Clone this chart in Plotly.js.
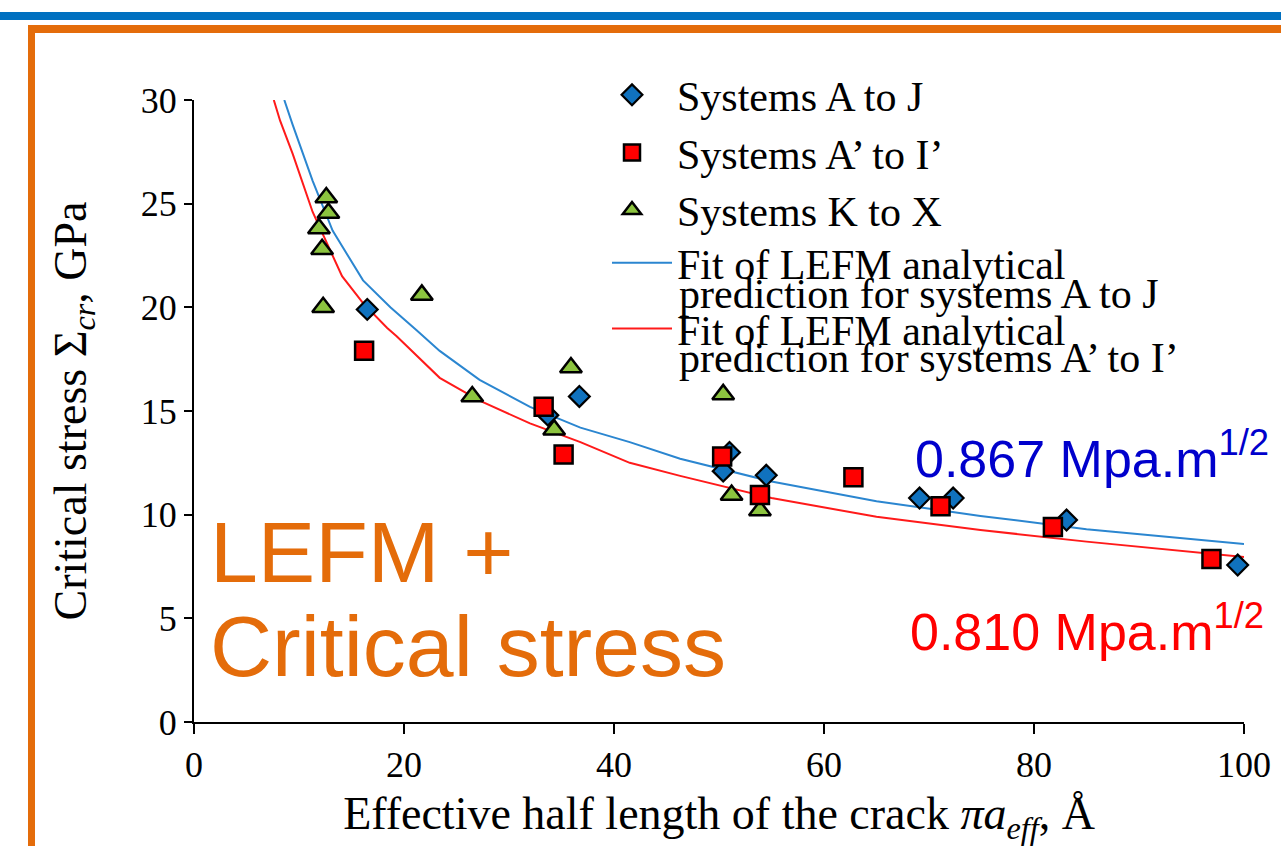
<!DOCTYPE html>
<html>
<head>
<meta charset="utf-8">
<script src="https://cdn.plot.ly/plotly-3.0.1.min.js"></script>
<style>html,body{margin:0;padding:0;background:#fff;}#chart{width:1281px;height:846px;}</style>
</head>
<body>
<div id="chart"></div>
<script>
// Systems A to J (diamonds)
const sysAJ_x = [16.5, 33.7, 36.7, 51.0, 50.4, 54.5, 69.1, 72.3, 83.1, 99.4];
const sysAJ_y = [19.9, 14.8, 15.7, 13.0, 12.1, 11.9, 10.8, 10.8, 9.74, 7.57];
// Systems A' to I' (squares)
const sysAI_x = [16.2, 33.3, 35.2, 50.3, 53.9, 62.8, 71.1, 81.8, 96.9];
const sysAI_y = [17.9, 15.2, 12.9, 12.8, 10.95, 11.8, 10.4, 9.4, 7.86];
// Systems K to X (triangles)
const sysKX_x = [12.6, 12.8, 11.9, 12.2, 12.3, 21.7, 26.5, 35.9, 34.3, 50.4, 51.2, 53.9];
const sysKX_y = [25.3, 24.55, 23.8, 22.8, 20.0, 20.6, 15.7, 17.1, 14.1, 15.8, 10.95, 10.2];
// Fit curve for A to J
const fitAJ_x = [8.6, 9.4, 11.3, 13.2, 16.1, 18.7, 21.2, 23.4, 27.2, 32, 36.8, 41.5, 46.3, 55, 65, 74.9, 85, 100];
const fitAJ_y = [30.0, 28.8, 26.1, 23.7, 21.3, 20.0, 18.9, 17.9, 16.5, 15.2, 14.2, 13.5, 12.7, 11.6, 10.65, 9.94, 9.3, 8.59];
// Fit curve for A' to I'
const fitAI_x = [7.6, 8.2, 9.4, 11.3, 14.1, 16.1, 18.4, 19.3, 23.4, 27.2, 32, 36.8, 41.5, 46.3, 55, 65, 74.9, 85, 100];
const fitAI_y = [30.0, 29.0, 27.4, 24.6, 21.5, 20.2, 19.0, 18.6, 16.6, 15.5, 14.4, 13.5, 12.5, 11.87, 10.8, 9.9, 9.26, 8.7, 7.96];

const markerNames = ["Systems A to J", "Systems A\u2019 to I\u2019", "Systems K to X"];
const fitNamesLine1 = ["Fit of LEFM analytical", "Fit of LEFM analytical"];
const fitNamesLine2 = ["prediction for systems A to J", "prediction for systems A\u2019 to I\u2019"];

const serif = "Liberation Serif, Times New Roman, serif";
const sans = "Liberation Sans, Arial, sans-serif";

const traces = [
  {x: fitAJ_x, y: fitAJ_y, mode: 'lines', name: fitNamesLine1[0], legend: 'legend2', legendgroup: 'fit1', legendrank: 1,
   line: {color: '#2B86D0', width: 2}},
  {x: fitAI_x, y: fitAI_y, mode: 'lines', name: fitNamesLine1[1], legend: 'legend2', legendgroup: 'fit2', legendrank: 2,
   line: {color: '#FF1A1A', width: 2}},
  {x: sysKX_x, y: sysKX_y, mode: 'markers', name: markerNames[2], legendrank: 3, cliponaxis: false,
   marker: {symbol: 'triangle-up', size: 19, color: '#8CC43F', line: {color: '#000', width: 2.5}}},
  {x: sysAJ_x, y: sysAJ_y, mode: 'markers', name: markerNames[0], legendrank: 1, cliponaxis: false,
   marker: {symbol: 'diamond', size: 16, color: '#1072BE', line: {color: '#000', width: 2.2}}},
  {x: sysAI_x, y: sysAI_y, mode: 'markers', name: markerNames[1], legendrank: 2, cliponaxis: false,
   marker: {symbol: 'square', size: 18, color: '#FF0000', line: {color: '#000', width: 2.5}}}
];

function px2x(p){ return (p - 194) / 1050; }
function py2y(p){ return (722 - p) / 622; }

const legendFont = {family: serif, size: 42, color: '#000'};

const layout = {
  width: 1281, height: 846,
  margin: {l: 194, r: 37, t: 100, b: 124},
  paper_bgcolor: '#fff', plot_bgcolor: '#fff',
  showlegend: true,
  legend: {x: px2x(587), y: py2y(61), xanchor: 'left', yanchor: 'top', bgcolor: 'rgba(0,0,0,0)',
    font: legendFont, tracegroupgap: 0, traceorder: 'normal', itemwidth: 80},
  legend2: {x: px2x(607), y: py2y(229), xanchor: 'left', yanchor: 'top', bgcolor: 'rgba(0,0,0,0)',
    font: legendFont, tracegroupgap: 8, traceorder: 'grouped', itemwidth: 60},
  xaxis: {range: [0, 100], tickvals: [0, 20, 40, 60, 80, 100], showgrid: false, zeroline: false,
    showline: true, linecolor: '#000', linewidth: 2, ticks: 'outside', ticklen: 10, tickwidth: 2, tickcolor: '#000',
    tickfont: {family: serif, size: 36, color: '#000'},
    title: {text: 'Effective half length of the crack <i>πa<sub>eff</sub></i>, Å', font: {family: serif, size: 46, color: '#000'}, standoff: 22}},
  yaxis: {range: [0, 30], tickvals: [0, 5, 10, 15, 20, 25, 30], showgrid: false, zeroline: false,
    showline: true, linecolor: '#000', linewidth: 2, ticks: 'outside', ticklen: 8, tickwidth: 2, tickcolor: '#000',
    tickfont: {family: serif, size: 36, color: '#000'},
    title: {text: 'Critical stress Σ<sub><i>cr</i></sub>, GPa', font: {family: serif, size: 46, color: '#000'}, standoff: 40}},
  shapes: [
    {type: 'rect', xref: 'paper', yref: 'paper', x0: px2x(-5), x1: px2x(1290), y0: py2y(20), y1: py2y(12), fillcolor: '#0070C0', line: {width: 0}, layer: 'above'},
    {type: 'rect', xref: 'paper', yref: 'paper', x0: px2x(28), x1: px2x(1290), y0: py2y(33), y1: py2y(25), fillcolor: '#E46C0A', line: {width: 0}, layer: 'above'},
    {type: 'rect', xref: 'paper', yref: 'paper', x0: px2x(28), x1: px2x(35), y0: py2y(850), y1: py2y(25), fillcolor: '#E46C0A', line: {width: 0}, layer: 'above'}
  ],
  annotations: [
    {xref: 'paper', yref: 'paper', x: px2x(677), y: py2y(294), xanchor: 'left', yanchor: 'middle', showarrow: false,
     text: fitNamesLine2[0], font: legendFont},
    {xref: 'paper', yref: 'paper', x: px2x(677), y: py2y(358), xanchor: 'left', yanchor: 'middle', showarrow: false,
     text: fitNamesLine2[1], font: legendFont},
    {xref: 'paper', yref: 'paper', x: px2x(913), y: py2y(455), xanchor: 'left', yanchor: 'middle', showarrow: false,
     text: '0.867 Mpa.m<sup>1/2</sup>', font: {family: sans, size: 52, color: '#0000CC'}},
    {xref: 'paper', yref: 'paper', x: px2x(908), y: py2y(628), xanchor: 'left', yanchor: 'middle', showarrow: false,
     text: '0.810 Mpa.m<sup>1/2</sup>', font: {family: sans, size: 52, color: '#FF0000'}},
    {xref: 'paper', yref: 'paper', x: px2x(208), y: py2y(552), xanchor: 'left', yanchor: 'middle', showarrow: false,
     text: 'LEFM +', font: {family: sans, size: 86, color: '#E46C0A'}},
    {xref: 'paper', yref: 'paper', x: px2x(208), y: py2y(646), xanchor: 'left', yanchor: 'middle', showarrow: false,
     text: 'Critical stress', font: {family: sans, size: 86, color: '#E46C0A'}}
  ]
};

Plotly.newPlot('chart', traces, layout, {staticPlot: true, displayModeBar: false});
</script>
</body>
</html>
